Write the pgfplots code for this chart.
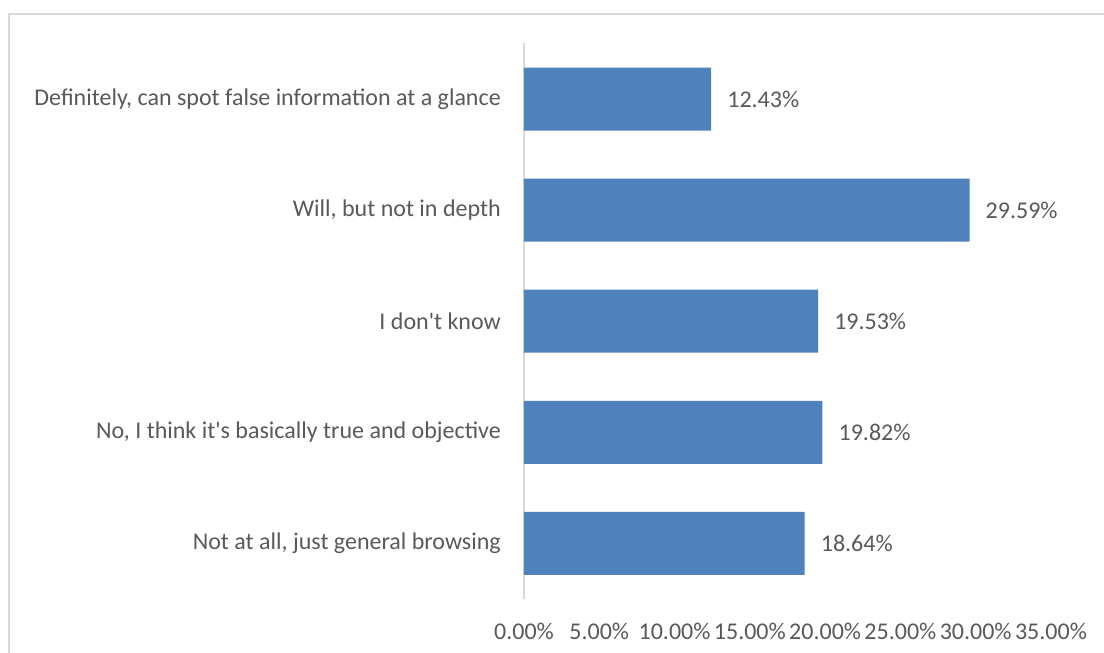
\documentclass[border=0pt]{standalone}
\usepackage{fontspec}
\setmainfont{Carlito}
\usepackage{pgfplots}
\pgfplotsset{compat=1.18}
\definecolor{barblue}{HTML}{4F81BD}
\definecolor{txt}{HTML}{595959}
\definecolor{axgray}{HTML}{D9D9D9}
\begin{document}
\begin{tikzpicture}[x=1pt,y=1pt]
\useasboundingbox (0,0) rectangle (1104,653);
\draw[axgray, line width=1.5pt] (9,-5) -- (9,639) -- (1110,639);
\begin{axis}[
  at={(524pt,54pt)}, anchor=south west,
  scale only axis, width=527pt, height=555.5pt,
  xmin=0, xmax=35, ymin=-0.5, ymax=4.5,
  xbar, bar width=63pt,
  /pgf/number format/assume math mode=true,
  font=\fontsize{24}{28}\selectfont,
  axis x line*=bottom,
  x axis line style={draw=none},
  axis y line*=left,
  y axis line style={axgray, line width=1.2pt},
  xtick={0,5,10,15,20,25,30,35},
  xticklabels={0.00\%,5.00\%,10.00\%,15.00\%,20.00\%,25.00\%,30.00\%,35.00\%},
  ytick={0,1,2,3,4},
  yticklabels={{Not at all, just general browsing},
    {No, I think it\textquotesingle s basically true and objective},
    {I don\textquotesingle t know},
    {Will, but not in depth},
    {Definitely, can spot false information at a glance}},
  major tick length=0pt,
  tick style={draw=none},
  xticklabel style={text=txt, inner sep=0pt, anchor=north, yshift=-24pt},
  yticklabel style={text=txt, inner sep=0pt, anchor=east, xshift=-23pt},
  nodes near coords={\pgfmathprintnumber[fixed,fixed zerofill,precision=2]{\pgfplotspointmeta}\%},
  every node near coord/.append style={text=txt, inner sep=0pt, anchor=west, xshift=16pt},
  clip=false,
]
\addplot[fill=barblue, draw=none] coordinates {
  (18.64,0) (19.82,1) (19.53,2) (29.59,3) (12.43,4)};
\end{axis}
\end{tikzpicture}
\end{document}
